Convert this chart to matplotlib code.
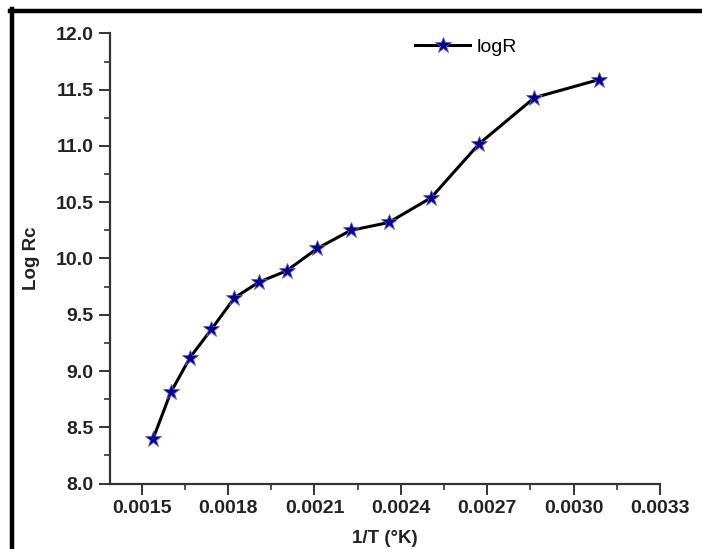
import matplotlib
matplotlib.use("Agg")
import matplotlib.pyplot as plt
from matplotlib.ticker import MultipleLocator, FormatStrFormatter
from matplotlib.lines import Line2D

# data
inv_T = [0.001540, 0.001601, 0.001668, 0.001742, 0.001822, 0.001907, 0.002003,
         0.002110, 0.002226, 0.002358, 0.002505, 0.002672, 0.002864, 0.003088]
log_rc = [8.40, 8.81, 9.12, 9.37, 9.65, 9.79, 9.89,
          10.09, 10.25, 10.32, 10.54, 11.02, 11.43, 11.59]
series_name = 'logR'
x_title = '1/T (°K)'
y_title = 'Log Rc'

plt.rcParams['font.family'] = ['Liberation Sans', 'DejaVu Sans']

fig = plt.figure(figsize=(7.02, 5.49), dpi=100)
ax = fig.add_axes([0.1567, 0.1193, 0.7835, 0.8197])

ax.plot(inv_T, log_rc, color='black', lw=2.2, marker='*', markersize=12,
        markerfacecolor='#00008b', markeredgecolor='#5a5ac8', markeredgewidth=0.6,
        label=series_name)

ax.set_xlim(0.00139, 0.0033)
ax.set_ylim(8.0, 12.0)
ax.xaxis.set_major_locator(MultipleLocator(0.0003))
ax.xaxis.set_minor_locator(MultipleLocator(0.00015))
ax.yaxis.set_major_locator(MultipleLocator(0.5))
ax.yaxis.set_minor_locator(MultipleLocator(0.25))
ax.xaxis.set_major_formatter(FormatStrFormatter('%.4f'))
ax.yaxis.set_major_formatter(FormatStrFormatter('%.1f'))
ax.set_xticks([0.0015, 0.0018, 0.0021, 0.0024, 0.0027, 0.0030, 0.0033])

for s in ['top', 'right']:
    ax.spines[s].set_visible(False)
for s in ['left', 'bottom']:
    ax.spines[s].set_linewidth(1.6)
    ax.spines[s].set_color('#333333')

ax.tick_params(which='major', direction='out', length=8, width=1.4, color='#333333',
               labelsize=14, pad=4)
ax.tick_params(which='minor', direction='out', length=4.5, width=1.2, color='#333333')
for lab in ax.get_xticklabels() + ax.get_yticklabels():
    lab.set_fontweight('bold')
    lab.set_color('#222222')

ax.set_xlabel(x_title, fontsize=13.5, fontweight='bold', color='#222222', labelpad=9)
ax.set_ylabel(y_title, fontsize=13.5, fontweight='bold', color='#222222', labelpad=11)

leg = ax.legend(loc='upper left', bbox_to_anchor=(0.541, 1.007), frameon=False,
                fontsize=14, handlelength=2.8, handletextpad=0.35, borderaxespad=0.0)

# black frame around the picture (top and left edges)
fig.add_artist(Line2D([10 / 702, 1.0], [1 - 11 / 549, 1 - 11 / 549],
                      transform=fig.transFigure, color='black', lw=3.2))
fig.add_artist(Line2D([12 / 702, 12 / 702], [1 - 9 / 549, 0.0],
                      transform=fig.transFigure, color='black', lw=3.2))

fig.savefig('out.png', dpi=100)
